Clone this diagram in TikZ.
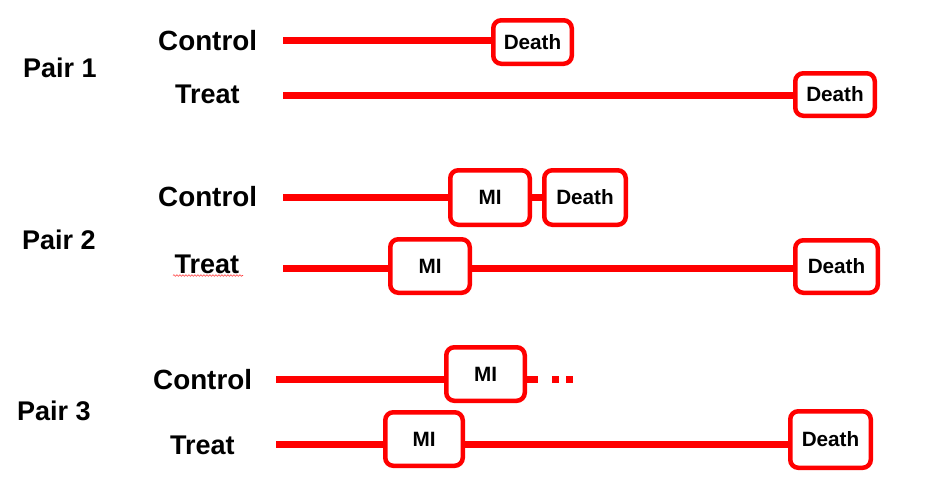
\documentclass[tikz,border=0pt]{standalone}
\usepackage{fontspec}
\setmainfont{Liberation Sans}
\usetikzlibrary{decorations.pathmorphing}
\definecolor{pptred}{RGB}{255,0,0}
\tikzset{
  lbl/.style={anchor=base west, inner sep=0pt, font=\fontsize{27}{30}\selectfont\bfseries},
  ctllbl/.style={lbl, font=\fontsize{27.8}{30}\selectfont\bfseries},
  evbox/.style={draw=pptred, line width=4.5pt, rounded corners=8pt, fill=white,
    inner sep=0pt, font=\fontsize{20.7}{23}\selectfont\bfseries},
  conn/.style={draw=pptred, line width=7pt},
  dotsq/.style={fill=pptred, inner sep=0pt, minimum size=7pt},
  squig/.style={draw=pptred!75, line width=0.6pt, decorate,
    decoration={snake, amplitude=0.8pt, segment length=3pt}}
}
\begin{document}
\begin{tikzpicture}[x=1pt,y=-1pt]
\useasboundingbox (0,0) rectangle (937,499);
% labels
\node[lbl] (pair1) at (23,77) {Pair 1};
\node[ctllbl] (ctl1) at (158,50) {Control};
\node[lbl] (trt1) at (175,103) {Treat};
\node[lbl] (pair2) at (22,249) {Pair 2};
\node[ctllbl] (ctl2) at (158,206) {Control};
\node[lbl] (trt2) at (174.5,273) {Treat};
\node[lbl] (pair3) at (17,420) {Pair 3};
\node[ctllbl] (ctl3) at (153,389) {Control};
\node[lbl] (trt3) at (170,454) {Treat};
% spell-check squiggle
\coordinate (sqa) at (173,275.5);
\coordinate (sqb) at (243,275.5);
\draw[squig] (sqa) -- (sqb);
% line start coordinates
\coordinate (s1c) at (283,40);
\coordinate (s1t) at (283,95);
\coordinate (s2c) at (283,197.5);
\coordinate (s2t) at (283,268);
\coordinate (s3c) at (276,379.5);
\coordinate (s3t) at (276,444);
\coordinate (stubend) at (537.5,379.5);
% event boxes
\node[evbox, minimum width=78.5pt, minimum height=43.5pt] (A) at (532.5,42) {Death};
\node[evbox, minimum width=79.5pt, minimum height=42.5pt] (B) at (835,94.5) {Death};
\node[evbox, minimum width=79.5pt, minimum height=54.5pt] (C) at (490,197.5) {MI};
\node[evbox, minimum width=81.5pt, minimum height=54.5pt] (D) at (585,197.5) {Death};
\node[evbox, minimum width=79.5pt, minimum height=53.5pt] (E) at (430,266) {MI};
\node[evbox, minimum width=82.5pt, minimum height=52.5pt] (F) at (836.5,266.5) {Death};
\node[evbox, minimum width=78.5pt, minimum height=53.5pt] (G) at (485.5,374) {MI};
\node[evbox, minimum width=77.5pt, minimum height=53.5pt] (H) at (424,439) {MI};
\node[evbox, minimum width=80.5pt, minimum height=56.5pt] (I) at (830.5,439.5) {Death};
\node[dotsq] (dot1) at (555.5,379.5) {};
\node[dotsq] (dot2) at (569.5,379.5) {};
% connectors
\draw[conn] (s1c) -- (A.west |- s1c);
\draw[conn] (s1t) -- (B.west |- s1t);
\draw[conn] (s2c) -- (C.west);
\draw[conn] (C.east) -- (D.west);
\draw[conn] (s2t) -- (E.west |- s2t);
\draw[conn] (E.east |- s2t) -- (F.west |- s2t);
\draw[conn] (s3c) -- (G.west |- s3c);
\draw[conn] (G.east |- s3c) -- (stubend);
\draw[conn] (s3t) -- (H.west |- s3t);
\draw[conn] (H.east |- s3t) -- (I.west |- s3t);
\end{tikzpicture}
\end{document}
